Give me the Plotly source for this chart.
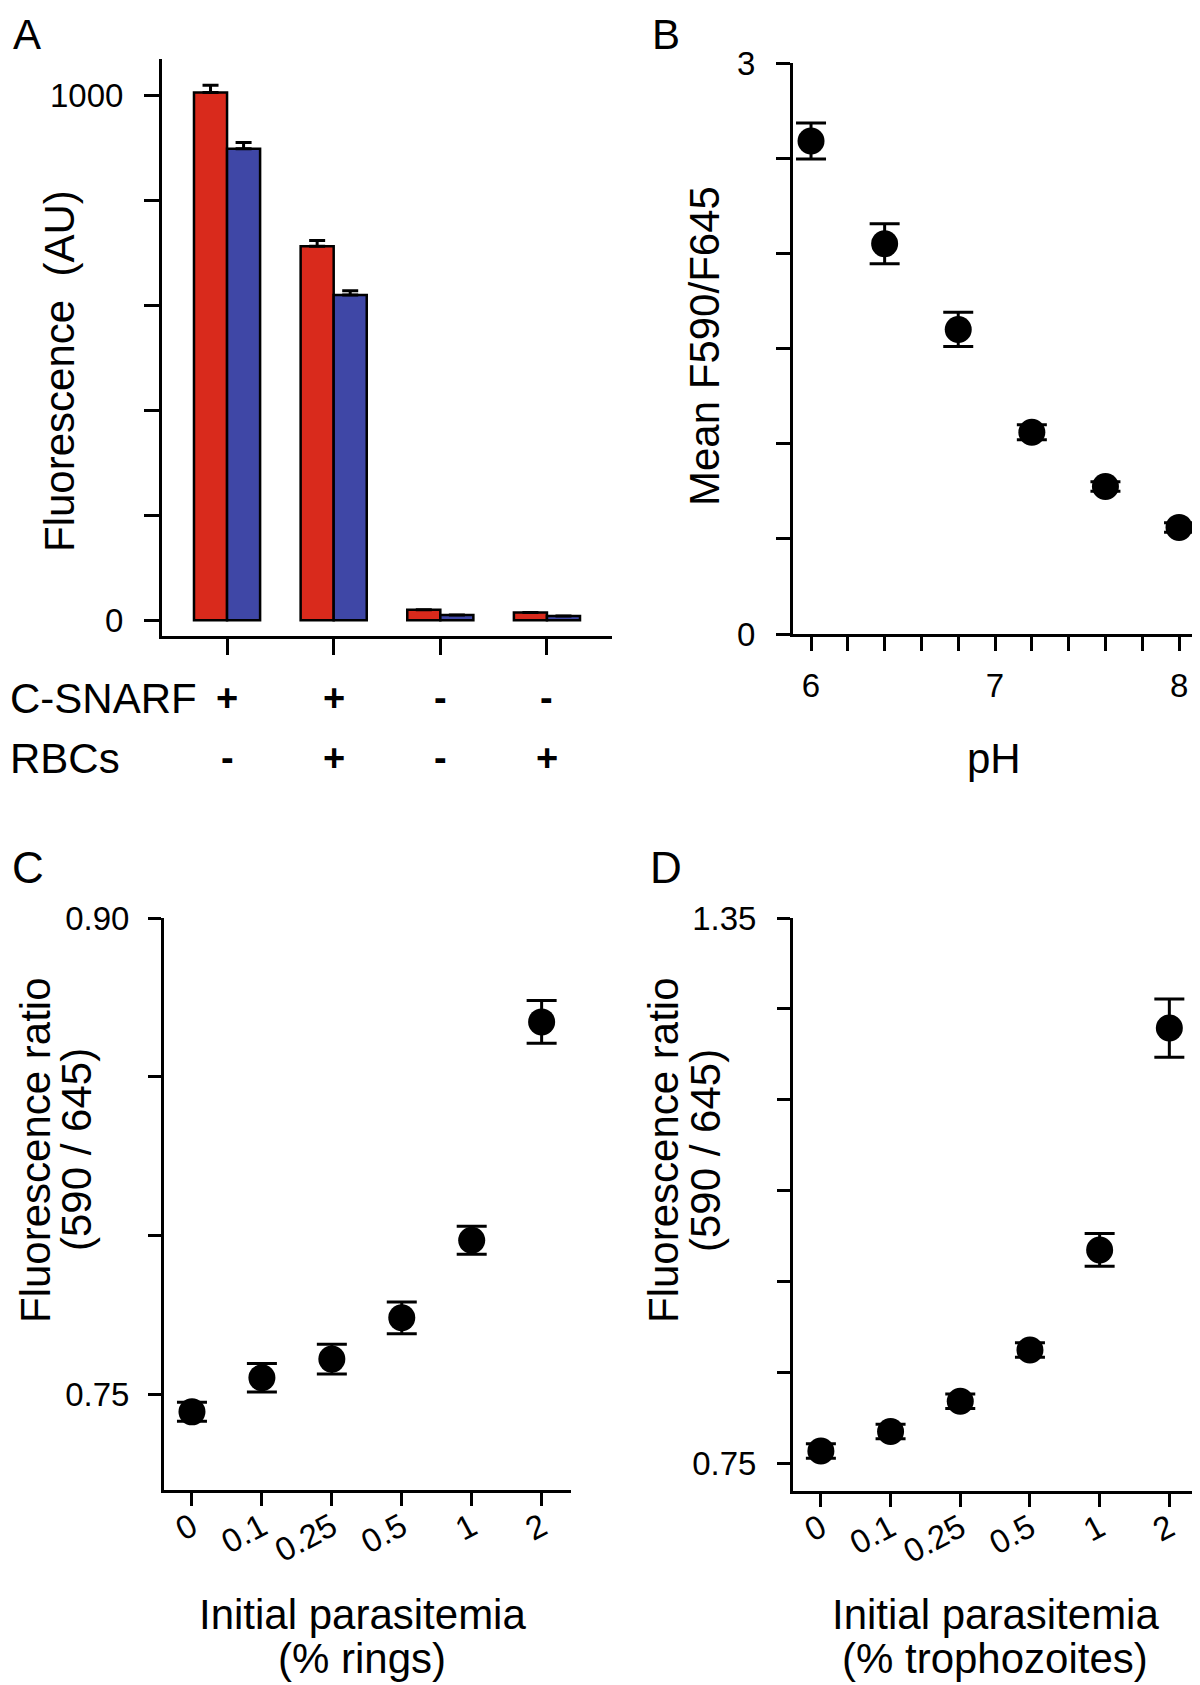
import plotly.graph_objects as go

# ---------------- data ----------------
# Panel A
conditions = [1, 2, 3, 4]
red_vals = [1006, 713, 20, 15]
red_err = [14, 11, 0, 0]
blue_vals = [899, 620, 10, 8]
blue_err = [12, 8, 0, 0]
csnarf_row = ["+", "+", "-", "-"]
rbcs_row = ["-", "+", "-", "+"]
a_yticks = [0, 200, 400, 600, 800, 1000]
a_yticklabels = ["0", "", "", "", "", "1000"]

# Panel B
ph = [6.0, 6.4, 6.8, 7.2, 7.6, 8.0]
ratio_b = [2.59, 2.05, 1.60, 1.06, 0.775, 0.56]
ratio_b_err = [0.095, 0.105, 0.09, 0.04, 0.025, 0.025]
b_xticks = [6.0, 6.2, 6.4, 6.6, 6.8, 7.0, 7.2, 7.4, 7.6, 7.8, 8.0]
b_xticklabels = ["6", "", "", "", "", "7", "", "", "", "", "8"]
b_yticks = [0, 0.5, 1.0, 1.5, 2.0, 2.5, 3.0]
b_yticklabels = ["0", "", "", "", "", "", "3"]

# Panel C and D
parasitemia = ["0", "0.1", "0.25", "0.5", "1", "2"]
rings = [0.7446, 0.7553, 0.7612, 0.7742, 0.7986, 0.8673]
rings_err = [0.003, 0.0045, 0.0047, 0.005, 0.0044, 0.0067]
c_yticks = [0.75, 0.80, 0.85, 0.90]
c_yticklabels = ["0.75", "", "", "0.90"]

troph = [0.764, 0.7855, 0.8186, 0.875, 0.985, 1.229]
troph_err = [0.008, 0.008, 0.008, 0.008, 0.018, 0.032]
d_yticks = [0.75, 0.85, 0.95, 1.05, 1.15, 1.25, 1.35]
d_yticklabels = ["0.75", "", "", "", "", "", "1.35"]

# ---------------- styling ----------------
FONT = "Liberation Sans, Arial, Helvetica, sans-serif"
OFF = 8  # page body margin
W, H = 1200 - OFF, 1685 - OFF
RED = "#D92A1C"
BLUE = "#3F47A6"
TICKFONT = dict(family=FONT, size=33, color="black")
TITLE_SIZE = 42


def px_x(p):
    return (p - OFF) / W


def px_y(p):
    return 1 - (p - OFF) / H


fig = go.Figure()

# Panel A bars
fig.add_trace(go.Bar(
    x=conditions, y=red_vals, marker=dict(color=RED, line=dict(color="black", width=2.5)),
    error_y=dict(type="data", array=red_err, arrayminus=[0] * 4, symmetric=False,
                 color="black", thickness=3, width=8),
    xaxis="x", yaxis="y", offsetgroup="r"))
fig.add_trace(go.Bar(
    x=conditions, y=blue_vals, marker=dict(color=BLUE, line=dict(color="black", width=2.5)),
    error_y=dict(type="data", array=blue_err, arrayminus=[0] * 4, symmetric=False,
                 color="black", thickness=3, width=8),
    xaxis="x", yaxis="y", offsetgroup="b"))

MARK = dict(color="black", size=27)
# Panel B
fig.add_trace(go.Scatter(
    x=ph, y=ratio_b, mode="markers", marker=MARK,
    error_y=dict(type="data", array=ratio_b_err, color="black", thickness=3, width=15),
    xaxis="x2", yaxis="y2"))

# Panel C
fig.add_trace(go.Scatter(
    x=parasitemia, y=rings, mode="markers", marker=MARK,
    error_y=dict(type="data", array=rings_err, color="black", thickness=3, width=15),
    xaxis="x3", yaxis="y3"))

# Panel D
fig.add_trace(go.Scatter(
    x=parasitemia, y=troph, mode="markers", marker=MARK,
    error_y=dict(type="data", array=troph_err, color="black", thickness=3, width=15),
    xaxis="x4", yaxis="y4"))

axis_common = dict(showline=True, linecolor="black", linewidth=3, mirror=False,
                   showgrid=False, zeroline=False, ticks="outside", tickcolor="black",
                   tickwidth=3, tickfont=TICKFONT, fixedrange=True, automargin=False)

fig.update_layout(
    template="none",
    width=W, height=H, margin=dict(l=0, r=0, t=0, b=0, pad=0, autoexpand=False),
    paper_bgcolor="white", plot_bgcolor="white", showlegend=False,
    barmode="group", bargap=0.38, bargroupgap=0,
    xaxis=dict(domain=[px_x(162), px_x(612)], range=[0.39, 4.61], tickmode="array",
               tickvals=conditions, ticktext=[""] * 4, ticklen=16, anchor="y", **axis_common),
    yaxis=dict(domain=[px_y(636), px_y(59)], range=[-30, 1070], tickmode="array",
               tickvals=a_yticks, ticktext=a_yticklabels, ticklen=15, ticklabelstandoff=14,
               anchor="x", **axis_common),
    xaxis2=dict(domain=[px_x(793), px_x(1198)], range=[5.902, 8.103], tickmode="array",
                tickvals=b_xticks, ticktext=b_xticklabels, ticklen=14, ticklabelstandoff=6,
                anchor="y2", **axis_common),
    yaxis2=dict(domain=[px_y(634), px_y(63)], range=[0, 3], tickmode="array",
                tickvals=b_yticks, ticktext=b_yticklabels, ticklen=14, ticklabelstandoff=14,
                anchor="x2", **axis_common),
    xaxis3=dict(domain=[px_x(164), px_x(571)], range=[-0.4, 5.42], type="category",
                tickangle=-28, ticklen=13, ticklabelstandoff=-11, anchor="y3", **axis_common),
    yaxis3=dict(domain=[px_y(1490), px_y(918)], range=[0.72, 0.90], tickmode="array",
                tickvals=c_yticks, ticktext=c_yticklabels, ticklen=13, ticklabelstandoff=12,
                anchor="x3", **axis_common),
    xaxis4=dict(domain=[px_x(793), 1.0], range=[-0.4, 5.44], type="category",
                tickangle=-28, ticklen=13, ticklabelstandoff=-11, anchor="y4", **axis_common),
    yaxis4=dict(domain=[px_y(1491), px_y(918)], range=[0.72, 1.35], tickmode="array",
                tickvals=d_yticks, ticktext=d_yticklabels, ticklen=13, ticklabelstandoff=14,
                anchor="x4", **axis_common),
)

ann = []


def add_text(text, x, y, size=TITLE_SIZE, angle=0, xanchor="center", bold=False, xref="paper"):
    t = f"<b>{text}</b>" if bold else text
    ann.append(dict(text=t, x=x, y=y, xref=xref, yref="paper", showarrow=False,
                    textangle=angle, xanchor=xanchor, yanchor="middle",
                    font=dict(family=FONT, size=size, color="black")))


# panel letters
add_text("A", px_x(11), px_y(34), size=42, xanchor="left")
add_text("B", px_x(650), px_y(34), size=42, xanchor="left")
add_text("C", px_x(10), px_y(868), size=44, xanchor="left")
add_text("D", px_x(648), px_y(868), size=44, xanchor="left")

# Panel A labels
add_text("Fluorescence  (AU)", px_x(60), px_y(371), angle=-90)
add_text("C-SNARF", px_x(OFF), px_y(698), xanchor="left")
add_text("RBCs", px_x(OFF), px_y(758), xanchor="left")
for xi, s in zip(conditions, csnarf_row):
    add_text(s, xi, px_y(698), size=38, bold=True, xref="x")
for xi, s in zip(conditions, rbcs_row):
    add_text(s, xi, px_y(758), size=38, bold=True, xref="x")

# Panel B labels
add_text("Mean F590/F645", px_x(704), px_y(346), angle=-90)
add_text("pH", px_x(994), px_y(758))

# Panel C labels
add_text("Fluorescence ratio", px_x(35), px_y(1150), angle=-90)
add_text("(590 / 645)", px_x(76), px_y(1150), angle=-90)
add_text("Initial parasitemia", px_x(362), px_y(1614))
add_text("(% rings)", px_x(362), px_y(1658))

# Panel D labels
add_text("Fluorescence ratio", px_x(663), px_y(1150), angle=-90)
add_text("(590 / 645)", px_x(705), px_y(1150), angle=-90)
add_text("Initial parasitemia", px_x(995), px_y(1614))
add_text("(% trophozoites)", px_x(995), px_y(1658))

fig.update_layout(annotations=ann)

fig.write_html("out.html")
